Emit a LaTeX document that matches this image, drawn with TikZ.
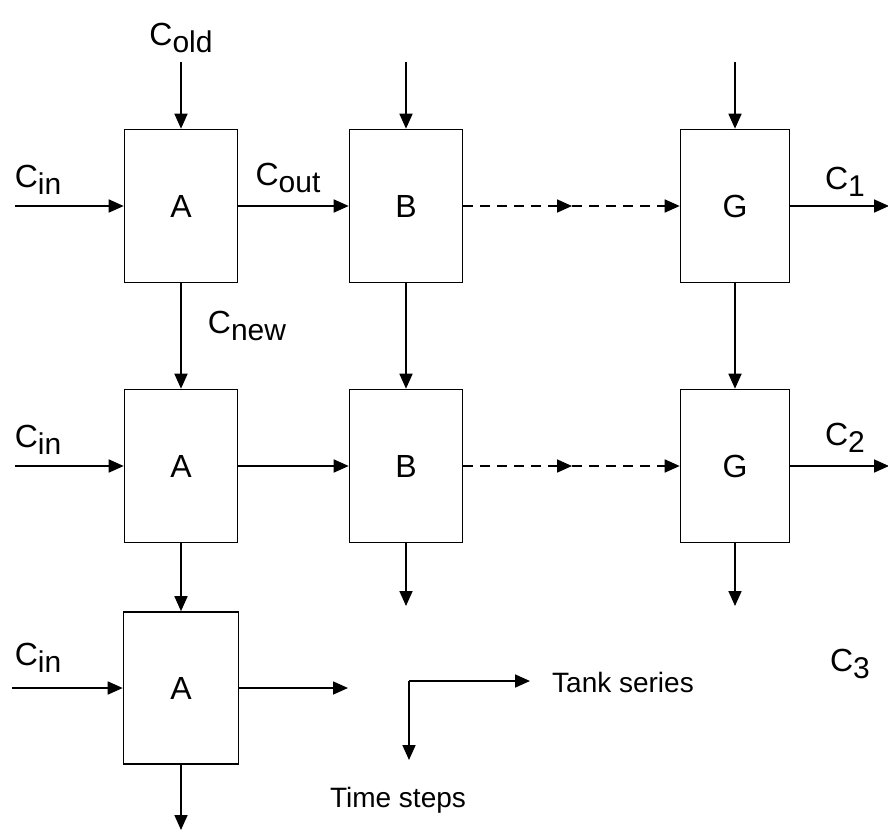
\documentclass[tikz,border=0pt]{standalone}
\usepackage{fontspec}
\setmainfont{Liberation Sans}
\usetikzlibrary{arrows.meta}
\newcommand{\Csub}[1]{C\raisebox{-7pt}{\fontsize{30}{30}\selectfont #1}}
\newcommand{\boxfont}{\fontsize{32}{32}\selectfont}
\begin{document}
\begin{tikzpicture}[x=1pt,y=-1pt,
  tankbox/.style={draw, line width=1.6pt, minimum width=113pt, minimum height=153pt, inner sep=0pt, font=\boxfont},
  arr/.style={line width=1.7pt, -{Triangle[length=15pt,width=13pt]}},
  dsh/.style={arr, dash pattern=on 10pt off 7pt},
  lab/.style={font=\fontsize{32}{32}\selectfont, inner sep=0pt},
  txt/.style={font=\fontsize{28}{28}\selectfont, inner sep=0pt}]
\useasboundingbox (0,0) rectangle (888,830);
% boxes
\node[tankbox] (A1) at (181,206) {A};
\node[tankbox] (B1) at (406,206) {B};
\node[tankbox, minimum width=109pt] (G1) at (735,206) {G};
\node[tankbox] (A2) at (181,466) {A};
\node[tankbox] (B2) at (406,466) {B};
\node[tankbox, minimum width=109pt] (G2) at (735,466) {G};
\node[tankbox, minimum width=115pt, minimum height=152pt] (A3) at (181,688) {A};
% free ends
\coordinate (tA) at (181,62);
\coordinate (tB) at (406,62);
\coordinate (tG) at (735,62);
\coordinate (in1) at (15,206);
\coordinate (in2) at (15,466);
\coordinate (in3) at (12,688);
\coordinate (o1) at (889,206);
\coordinate (o2) at (889,466);
\coordinate (m1) at (572,206);
\coordinate (m2) at (572,466);
\coordinate (bB) at (406,606);
\coordinate (bG) at (735,606);
\coordinate (bA) at (181,830);
\coordinate (rA) at (348,688);
\coordinate (lc) at (409,681);
\coordinate (lr) at (530,681);
\coordinate (ld) at (409,760);
% arrows row 1
\draw[arr] (tA) -- (A1.north);
\draw[arr] (tB) -- (B1.north);
\draw[arr] (tG) -- (G1.north);
\draw[arr] (in1) -- (A1.west);
\draw[arr] (A1.east) -- (B1.west);
\draw[dsh] (B1.east) -- (m1);
\draw[dsh] (m1) -- (G1.west);
\draw[arr] (G1.east) -- (o1);
% vertical 1->2
\draw[arr] (A1.south) -- (A2.north);
\draw[arr] (B1.south) -- (B2.north);
\draw[arr] (G1.south) -- (G2.north);
% row 2
\draw[arr] (in2) -- (A2.west);
\draw[arr] (A2.east) -- (B2.west);
\draw[dsh] (B2.east) -- (m2);
\draw[dsh] (m2) -- (G2.west);
\draw[arr] (G2.east) -- (o2);
\draw[arr] (A2.south) -- (A3.north);
\draw[arr] (B2.south) -- (bB);
\draw[arr] (G2.south) -- (bG);
% row 3
\draw[arr] (in3) -- (A3.west);
\draw[arr] (A3.east) -- (rA);
\draw[arr] (A3.south) -- (bA);
% legend
\draw[arr] (lc) -- (lr);
\draw[arr] (lc) -- (ld);
\node[txt] (ts) at (623,682) {Tank series};
\node[txt] (tm) at (398,800) {Time steps};
% labels
\node[lab] (lold) at (181,38) {\Csub{old}};
\node[lab] (lin1) at (38,180) {\Csub{in}};
\node[lab] (lout) at (288,178) {\Csub{out}};
\node[lab] (lnew) at (247,326) {\Csub{new}};
\node[lab] (lin2) at (38,440) {\Csub{in}};
\node[lab] (lin3) at (38,658) {\Csub{in}};
\node[lab] (l1) at (845,182) {\Csub{1}};
\node[lab] (l2) at (845,438) {\Csub{2}};
\node[lab] (l3) at (850,664) {\Csub{3}};
\end{tikzpicture}
\end{document}
